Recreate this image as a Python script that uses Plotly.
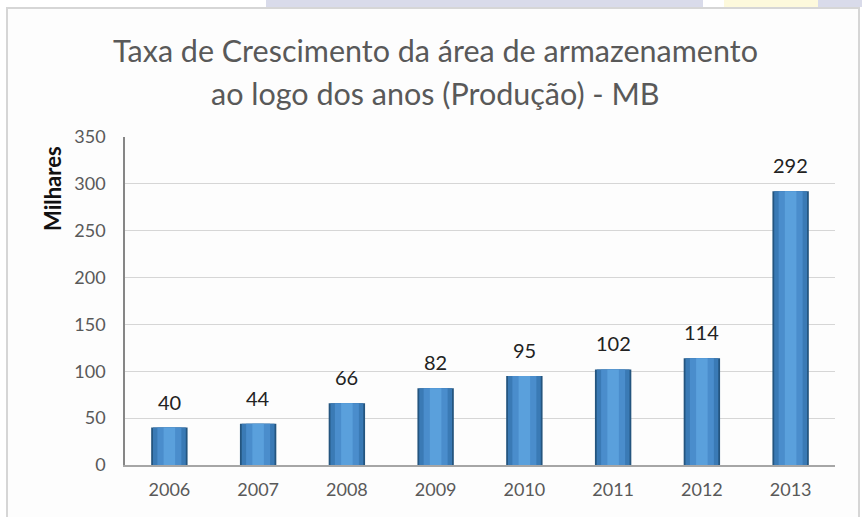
import plotly.graph_objects as go

years = ["2006", "2007", "2008", "2009", "2010", "2011", "2012", "2013"]
values = [40, 44, 66, 82, 95, 102, 114, 292]
y_ticks = [0, 50, 100, 150, 200, 250, 300, 350]
title_lines = ["Taxa de Crescimento da área de armazenamento",
               "ao logo dos anos (Produção) - MB"]
y_title = "Milhares"

FONT = "Lato"
L, R, T, B = 125, 27, 137, 52
W, H = 862, 517
pw = W - L - R
ph = H - T - B

def px_x(x):
    return (x - L) / pw

def px_y(y):
    return (H - B - y) / ph

fig = go.Figure()

# layered bars to mimic the shaded cylinder look
layers = [
    (0.41, "#24557f"),
    (0.37, "#3a7ab5"),
    (0.27, "#4a8dcc"),
    (0.13, "#5aa0dc"),
]
for w, c in layers:
    fig.add_trace(go.Bar(
        x=years, y=values, width=w,
        marker=dict(color=c, line=dict(width=0)),
        hoverinfo="skip",
        showlegend=False,
    ))

annotations = []
for i, v in enumerate(values):
    annotations.append(dict(
        x=i, y=v, xref="x", yref="y", text=str(v), showarrow=False,
        yanchor="bottom", yshift=12,
        font=dict(family=FONT, size=20, color="#222222"),
    ))
for line, cy in zip(title_lines, [50, 93]):
    annotations.append(dict(
        x=px_x(435), y=px_y(cy), xref="paper", yref="paper",
        text=line, showarrow=False, xanchor="center", yanchor="middle",
        font=dict(family=FONT, size=30.5, color="#595959"),
    ))
# y-axis title, placed near the top as in the reference
annotations.append(dict(
    x=px_x(52), y=px_y(189), xref="paper", yref="paper",
    text="<b>" + y_title + "</b>", showarrow=False, textangle=-90,
    xanchor="center", yanchor="middle",
    font=dict(family=FONT, size=22, color="#111111"),
))

shapes = [
    # chart frame
    dict(type="rect", xref="paper", yref="paper",
         x0=px_x(7), x1=px_x(859), y0=px_y(540), y1=px_y(8),
         line=dict(color="#d6d6d6", width=2), fillcolor="#fdfdfd", layer="below"),
    # watermark strips at the top
    dict(type="rect", xref="paper", yref="paper",
         x0=px_x(266), x1=px_x(703), y0=px_y(7), y1=px_y(0),
         line=dict(width=0), fillcolor="#d9dbea", layer="below"),
    dict(type="rect", xref="paper", yref="paper",
         x0=px_x(724), x1=px_x(818), y0=px_y(7), y1=px_y(0),
         line=dict(width=0), fillcolor="#fdf9dc", layer="below"),
    dict(type="rect", xref="paper", yref="paper",
         x0=px_x(818), x1=px_x(862), y0=px_y(7), y1=px_y(0),
         line=dict(width=0), fillcolor="#d9dbea", layer="below"),
]

fig.update_layout(
    width=W, height=H,
    margin=dict(l=L, r=R, t=T, b=B, pad=0),
    paper_bgcolor="white",
    plot_bgcolor="rgba(0,0,0,0)",
    barmode="overlay",
    bargap=0.6,
    shapes=shapes,
    annotations=annotations,
    font=dict(family=FONT),
)

fig.update_xaxes(
    type="category",
    range=[-0.5, len(years) - 0.5],
    showline=True, linecolor="#a6a6a6", linewidth=1.5,
    tickfont=dict(family=FONT, size=18, color="#595959"),
    ticks="outside", ticklen=8, tickcolor="rgba(0,0,0,0)",
    showgrid=False,
)
fig.update_yaxes(
    range=[0, 350], tickvals=y_ticks,
    showline=True, linecolor="#868686", linewidth=1.5,
    gridcolor="#d6d6d6", gridwidth=1,
    tickfont=dict(family=FONT, size=18, color="#595959"),
    ticks="outside", ticklen=14, tickcolor="rgba(0,0,0,0)",
    zeroline=False,
)

fig.write_html(
    "out.html",
    config={"displayModeBar": False},
    post_script="document.body.style.margin='0';document.body.style.overflow='hidden';",
)
